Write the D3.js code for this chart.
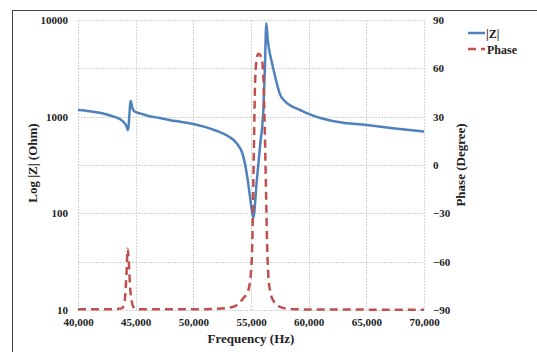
<!DOCTYPE html>
<html>
<head>
<meta charset="utf-8">
<script src="https://cdn.jsdelivr.net/npm/d3@7"></script>
<style>
  body { margin: 0; background: #fff; }
  text { font-family: "Liberation Serif", "Times New Roman", serif; font-weight: bold; fill: #222; }
</style>
</head>
<body>
<svg id="chart"></svg>
<script>
// |Z| readings (Hz, Ohm)
const freqZ = [40000, 41000, 42000, 43000, 43600, 44000, 44200, 44330, 44570, 44700, 44900, 45500, 46200, 47100, 48000, 48840, 50000, 51000, 52000, 53000, 53700, 54300, 54650, 54910, 55200, 55500, 55800, 56070, 56200, 56330, 56450, 56580, 56750, 56930, 57200, 57515, 57900, 58380, 59250, 60000, 61000, 62430, 65030, 67500, 70000];
const zMag = [1172, 1140, 1090, 1010, 950, 870, 800, 728, 1452, 1250, 1130, 1070, 1010, 968, 920, 887, 840, 785, 715, 630, 540, 400, 250, 150, 90, 216, 521, 1172, 3040, 9245, 6300, 4900, 3900, 3150, 2300, 1700, 1460, 1310, 1172, 1067, 968, 887, 820, 755, 700];

// Phase readings (Hz, degree)
const freqPhase = [40000, 43000, 43800, 44050, 44200, 44310, 44420, 44510, 44650, 44800, 45200, 50000, 52000, 53470, 54330, 54770, 55060, 55150, 55250, 55350, 55450, 55630, 55900, 56070, 56200, 56300, 56400, 56500, 56650, 57000, 57500, 58100, 60000, 70000];
const phase = [-89.6, -89.5, -89, -84, -68, -52, -62, -75, -84, -88, -89.5, -89.5, -89.3, -88, -82.7, -77.6, -60, -35, 10, 50, 63, 69, 67, 55, 20, -15, -50, -68, -78, -85, -88, -89.2, -89.7, -89.8];

const freqTicks = [40000, 45000, 50000, 55000, 60000, 65000, 70000];
const zTicks = [10, 100, 1000, 10000];
const phaseTicks = [-90, -60, -30, 0, 30, 60, 90];

const w = 537, h = 352;
const svg = d3.select("#chart").attr("width", w).attr("height", h);

const x = d3.scaleLinear().domain([40000, 70000]).range([78, 424]);
const yZ = d3.scaleLog().domain([10, 10000]).range([310, 20]);
const yP = d3.scaleLinear().domain([-90, 90]).range([310, 20]);

// outer frame
svg.append("rect")
  .attr("x", 12.5).attr("y", 10.5)
  .attr("width", 600).attr("height", 400)
  .attr("fill", "none").attr("stroke", "#444").attr("stroke-width", 1);

// gridlines
const grid = svg.append("g").attr("stroke", "#d4d4d4").attr("stroke-dasharray", "2,1");
grid.selectAll(".gv").data(freqTicks).enter().append("line")
  .attr("x1", d => Math.round(x(d)) + 0.5).attr("x2", d => Math.round(x(d)) + 0.5)
  .attr("y1", yP(90)).attr("y2", yP(-90));
grid.selectAll(".gh").data(phaseTicks).enter().append("line")
  .attr("x1", x(40000)).attr("x2", x(70000))
  .attr("y1", d => Math.round(yP(d)) + 0.5).attr("y2", d => Math.round(yP(d)) + 0.5);

// axes
const fmtFreq = d3.format(",");
svg.append("g")
  .attr("transform", `translate(0,${yP(-90)})`)
  .call(d3.axisBottom(x).tickValues(freqTicks).tickFormat(fmtFreq).tickSize(0).tickPadding(8))
  .call(g => g.select(".domain").remove())
  .selectAll("text").attr("font-size", 11).style("font-family", "Liberation Serif").style("font-weight", "bold");

svg.append("g")
  .attr("transform", `translate(${x(40000)},0)`)
  .call(d3.axisLeft(yZ).tickValues(zTicks).tickFormat(d3.format("d")).tickSize(0).tickPadding(10))
  .call(g => g.select(".domain").remove())
  .selectAll("text").attr("font-size", 11).style("font-family", "Liberation Serif").style("font-weight", "bold");

svg.append("g")
  .attr("transform", `translate(${x(70000)},0)`)
  .call(d3.axisRight(yP).tickValues(phaseTicks).tickSize(0).tickPadding(9))
  .call(g => g.select(".domain").remove())
  .selectAll("text").attr("font-size", 11).style("font-family", "Liberation Serif").style("font-weight", "bold");

// axis titles
svg.append("text")
  .attr("transform", "translate(37,163) rotate(-90)")
  .attr("text-anchor", "middle").attr("font-size", 13)
  .text("Log |Z| (Ohm)");
svg.append("text")
  .attr("transform", "translate(465,165) rotate(-90)")
  .attr("text-anchor", "middle").attr("font-size", 13)
  .text("Phase (Degree)");
svg.append("text")
  .attr("x", 251).attr("y", 343)
  .attr("text-anchor", "middle").attr("font-size", 13)
  .text("Frequency (Hz)");

// lines
const zLine = d3.line()
  .x((d, i) => x(freqZ[i]))
  .y(d => yZ(d))
  .curve(d3.curveMonotoneX);
const pLine = d3.line()
  .x((d, i) => x(freqPhase[i]))
  .y(d => yP(d))
  .curve(d3.curveMonotoneX);

svg.append("path")
  .attr("d", zLine(zMag))
  .attr("fill", "none").attr("stroke", "#4F81BD").attr("stroke-width", 2.5);

svg.append("path")
  .attr("d", pLine(phase))
  .attr("fill", "none").attr("stroke", "#C0504D").attr("stroke-width", 2.5)
  .attr("stroke-dasharray", "8,5");

// legend
const legend = svg.append("g");
legend.append("line")
  .attr("x1", 468).attr("x2", 485).attr("y1", 33).attr("y2", 33)
  .attr("stroke", "#4F81BD").attr("stroke-width", 2.5);
legend.append("text").attr("x", 486).attr("y", 37.5).attr("font-size", 12).text("|Z|");
legend.append("line")
  .attr("x1", 468).attr("x2", 485).attr("y1", 49).attr("y2", 49)
  .attr("stroke", "#C0504D").attr("stroke-width", 2.5).attr("stroke-dasharray", "8,5");
legend.append("text").attr("x", 487).attr("y", 53.5).attr("font-size", 12).text("Phase");
</script>
</body>
</html>
